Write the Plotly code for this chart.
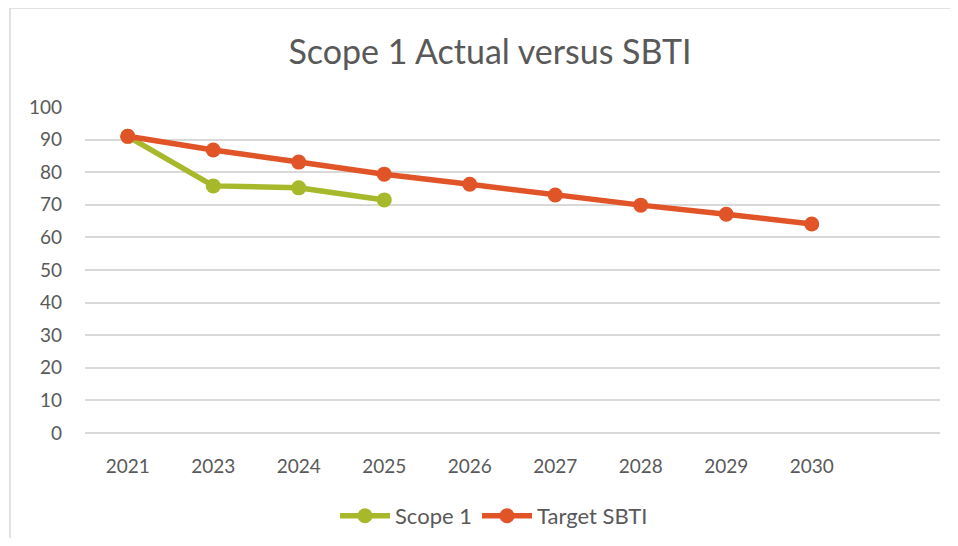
import plotly.graph_objects as go

years = ["2021", "2023", "2024", "2025", "2026", "2027", "2028", "2029", "2030"]
scope1_years = ["2021", "2023", "2024", "2025"]
scope1 = [91.0, 75.8, 75.2, 71.5]
target_sbti = [91.0, 86.8, 83.1, 79.4, 76.3, 73.0, 69.9, 67.1, 64.1]
y_ticks = list(range(0, 101, 10))

GREEN = "#A7B92B"
RED = "#E05428"
GREY = "#595959"
GRID = "#D9D9D9"
FONT = "Lato, 'Open Sans', sans-serif"

OFF = 8  # page body margin
FW, FH = 958 - 2 * OFF, 546 - 2 * OFF
L = 85 - OFF
R = FW - (940 - OFF)
T = 107 - OFF
B = FH - (433 - OFF)
W, H = FW - L - R, FH - T - B

def px_x(p):
    return (p - OFF - L) / W

def px_y(p):
    return ((433 - OFF) - (p - OFF)) / H

fig = go.Figure()
fig.add_trace(go.Scatter(
    x=scope1_years, y=scope1, name="Scope 1", mode="lines+markers",
    line=dict(color=GREEN, width=5.5), marker=dict(color=GREEN, size=15),
))
fig.add_trace(go.Scatter(
    x=years, y=target_sbti, name="Target SBTI", mode="lines+markers",
    line=dict(color=RED, width=5.5), marker=dict(color=RED, size=15),
))

border = dict(color=GRID, width=1.5)

fig.update_layout(
    width=FW, height=FH,
    margin=dict(l=L, r=R, t=T, b=B, autoexpand=False),
    paper_bgcolor="white", plot_bgcolor="white",
    font=dict(family=FONT, color=GREY, size=16),
    title=dict(text="Scope 1 Actual versus SBTI", x=(490 - OFF) / FW, xanchor="center",
               y=1 - (52 - OFF) / FH, yanchor="middle",
               font=dict(size=34, color=GREY, family=FONT)),
    showlegend=True,
    legend=dict(orientation="h", x=px_x(494), xanchor="center",
                y=px_y(516), yanchor="middle",
                font=dict(size=22, color=GREY), itemwidth=50,
                traceorder="normal"),
    xaxis=dict(type="category", categoryorder="array", categoryarray=years,
               range=[-0.5, 9.5], showgrid=False, showline=False,
               zeroline=False, ticks="", ticklabelstandoff=20,
               tickfont=dict(size=19, color=GREY)),
    yaxis=dict(range=[0, 100], tickvals=y_ticks, showgrid=True,
               gridcolor=GRID, gridwidth=1.5, zeroline=True,
               zerolinecolor=GRID, zerolinewidth=1.5, showline=False,
               ticks="", ticklabelstandoff=22,
               tickfont=dict(size=19, color=GREY)),
    shapes=[
        dict(type="line", xref="paper", yref="paper",
             x0=px_x(10), x1=px_x(990), y0=px_y(8), y1=px_y(8), line=border),
        dict(type="line", xref="paper", yref="paper",
             x0=px_x(10), x1=px_x(10), y0=px_y(8), y1=px_y(590), line=border),
    ],
)

fig.write_html("out.html")
